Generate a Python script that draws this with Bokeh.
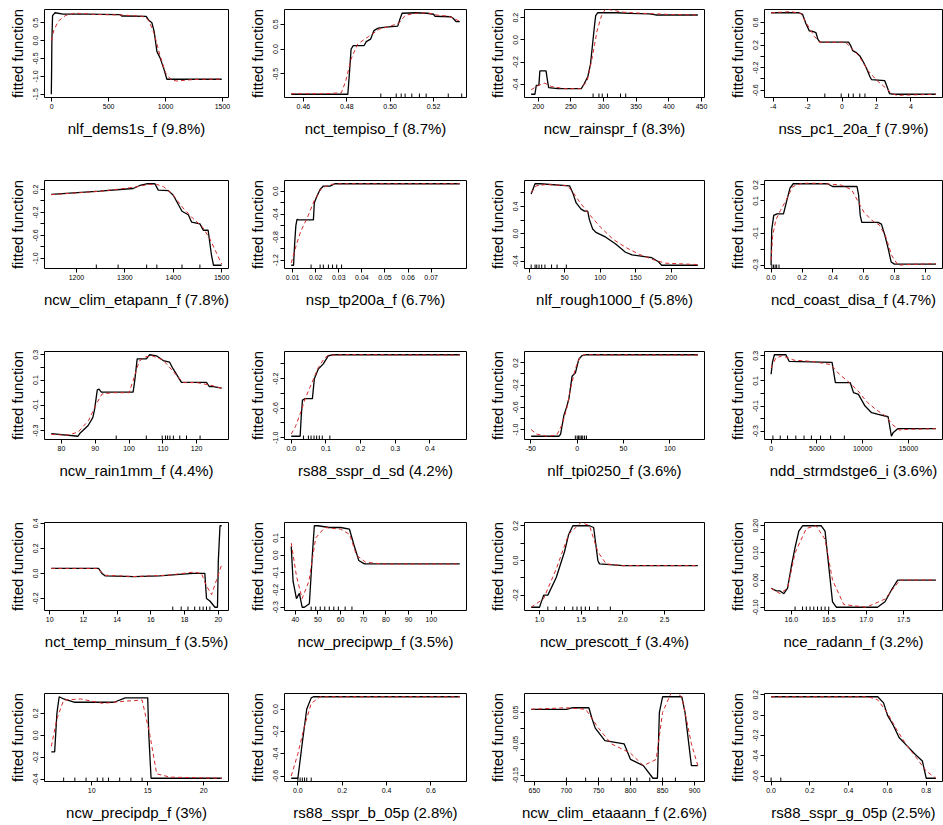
from bokeh.plotting import figure
from bokeh.layouts import column, row
from bokeh.models import FixedTicker, Range1d
from bokeh.embed import file_html
from bokeh.resources import INLINE

# ---------------- data ----------------
P1_LABEL = "nlf_dems1s_f (9.8%)"
P1_BX = [-3, -1, 2, 8, 30, 100, 300, 600, 615, 640, 830, 850, 880, 900, 924, 953, 983, 1012, 1100, 1300, 1493]
P1_BY = [-1.5, -1.0, 0.0, 0.7, 0.78, 0.74, 0.74, 0.73, 0.69, 0.69, 0.68, 0.58, 0.5, 0.26, -0.3, -0.49, -0.77, -1.08, -1.08, -1.08, -1.08]
P1_RX = [-3, 20, 60, 120, 200, 250, 400, 600, 800, 850, 900, 950, 1000, 1050, 1100, 1200, 1300, 1493]
P1_RY = [0.0, 0.3, 0.55, 0.7, 0.77, 0.76, 0.73, 0.72, 0.68, 0.58, 0.2, -0.4, -0.9, -1.1, -1.13, -1.1, -1.08, -1.08]
P1_RUG = []
P1_XT = [0, 500, 1000, 1500]
P1_XL = ["0", "500", "1000", "1500"]
P1_YT = [-1.5, -1.0, -0.5, 0.0, 0.5]
P1_YL = ["-1.5", "-1.0", "-0.5", "0.0", "0.5"]

P2_LABEL = "nct_tempiso_f (8.7%)"
P2_BX = [0.4544, 0.4805, 0.4812, 0.4820, 0.4830, 0.4880, 0.4890, 0.4910, 0.4925, 0.4945, 0.4980, 0.5035, 0.5045, 0.5055, 0.5120, 0.5170, 0.5200, 0.5207, 0.5280, 0.5290, 0.5305, 0.5321]
P2_BY = [-0.91, -0.91, -0.5, 0.0, 0.07, 0.07, 0.15, 0.20, 0.37, 0.42, 0.44, 0.46, 0.60, 0.72, 0.73, 0.72, 0.70, 0.66, 0.65, 0.62, 0.55, 0.55]
P2_RX = [0.4544, 0.470, 0.4775, 0.4795, 0.4820, 0.4850, 0.4900, 0.4950, 0.5000, 0.5040, 0.5070, 0.5120, 0.5170, 0.5220, 0.5270, 0.5321]
P2_RY = [-0.90, -0.90, -0.88, -0.65, -0.2, 0.1, 0.25, 0.40, 0.46, 0.52, 0.68, 0.72, 0.73, 0.68, 0.66, 0.56]
P2_RUG = [0.4957, 0.5028, 0.5051, 0.5069, 0.5100, 0.5135, 0.5166, 0.5268, 0.533]
P2_XT = [0.46, 0.48, 0.50, 0.52]
P2_XL = ["0.46", "0.48", "0.50", "0.52"]
P2_YT = [-0.5, 0.0, 0.5]
P2_YL = ["-0.5", "0.0", "0.5"]

P3_LABEL = "ncw_rainspr_f (8.3%)"
P3_BX = [189.2, 195, 197, 201, 202.5, 212, 214, 216, 230, 266, 270, 276, 280, 283, 286, 288, 291, 320, 340, 370, 380, 444.4]
P3_BY = [-0.49, -0.49, -0.41, -0.41, -0.28, -0.28, -0.36, -0.43, -0.44, -0.44, -0.40, -0.33, -0.22, -0.05, 0.12, 0.22, 0.245, 0.245, 0.24, 0.235, 0.225, 0.225]
P3_RX = [189.2, 200, 210, 220, 240, 265, 275, 283, 290, 297, 303, 312, 330, 360, 400, 444.4]
P3_RY = [-0.45, -0.41, -0.39, -0.42, -0.44, -0.44, -0.37, -0.15, 0.08, 0.22, 0.28, 0.27, 0.25, 0.24, 0.23, 0.225]
P3_RUG = [284, 293, 298, 306, 326, 334]
P3_XT = [200, 250, 300, 350, 400, 450]
P3_XL = ["200", "250", "300", "350", "400", "450"]
P3_YT = [-0.4, -0.2, 0.0, 0.2]
P3_YL = ["-0.4", "-0.2", "0.0", "0.2"]

P4_LABEL = "nss_pc1_20a_f (7.9%)"
P4_BX = [-4.12, -2.5, -2.29, -2.10, -1.90, -1.70, -1.52, -1.40, -1.28, 0.38, 0.50, 0.62, 0.85, 1.05, 1.24, 1.43, 1.62, 1.71, 2.48, 2.63, 2.76, 3.0, 5.45]
P4_BY = [0.77, 0.77, 0.74, 0.58, 0.45, 0.44, 0.42, 0.30, 0.25, 0.25, 0.19, 0.10, 0.06, 0.00, -0.10, -0.22, -0.36, -0.41, -0.43, -0.55, -0.66, -0.67, -0.67]
P4_RX = [-4.12, -3.0, -2.4, -2.0, -1.6, -1.3, 0.2, 0.5, 1.0, 1.5, 2.0, 2.5, 2.9, 3.2, 5.45]
P4_RY = [0.77, 0.79, 0.76, 0.55, 0.35, 0.25, 0.25, 0.16, 0.0, -0.25, -0.42, -0.55, -0.66, -0.69, -0.67]
P4_RUG = [-1.0, -0.05, 0.38, 0.65, 1.03, 1.33]
P4_XT = [-4, -2, 0, 2, 4]
P4_XL = ["-4", "-2", "0", "2", "4"]
P4_YT = [-0.6, -0.4, -0.2, 0.0, 0.2, 0.4, 0.6]
P4_YL = ["-0.6", "", "-0.2", "", "0.2", "", "0.6"]

P5_LABEL = "ncw_clim_etapann_f (7.8%)"
P5_BX = [1148, 1248, 1317, 1331, 1345, 1362, 1369, 1390, 1400, 1411, 1418, 1431, 1438, 1455, 1462, 1472, 1479, 1483, 1500]
P5_BY = [0.114, 0.17, 0.217, 0.27, 0.30, 0.30, 0.19, 0.18, 0.10, -0.07, -0.18, -0.24, -0.37, -0.40, -0.51, -0.51, -0.95, -1.12, -1.12]
P5_RX = [1148, 1250, 1320, 1350, 1365, 1380, 1400, 1420, 1440, 1460, 1475, 1490, 1500]
P5_RY = [0.11, 0.17, 0.24, 0.29, 0.29, 0.25, 0.10, -0.12, -0.30, -0.45, -0.65, -0.92, -1.10]
P5_RUG = [1241, 1286, 1345, 1366, 1418, 1455]
P5_XT = [1200, 1300, 1400, 1500]
P5_XL = ["1200", "1300", "1400", "1500"]
P5_YT = [-1.0, -0.8, -0.6, -0.4, -0.2, 0.0, 0.2]
P5_YL = ["-1.0", "", "-0.6", "", "-0.2", "", "0.2"]

P6_LABEL = "nsp_tp200a_f (6.7%)"
P6_BX = [0.0094, 0.0104, 0.0109, 0.0114, 0.0119, 0.0126, 0.0190, 0.0194, 0.0205, 0.0219, 0.0233, 0.0262, 0.0283, 0.0824]
P6_BY = [-1.29, -1.29, -0.9, -0.6, -0.49, -0.50, -0.50, -0.2, -0.09, 0.03, 0.09, 0.09, 0.13, 0.13]
P6_RX = [0.0094, 0.0115, 0.0135, 0.0165, 0.0195, 0.0225, 0.0265, 0.031, 0.0824]
P6_RY = [-1.25, -0.95, -0.7, -0.45, -0.15, 0.05, 0.12, 0.13, 0.13]
P6_RUG = [0.0180, 0.0219, 0.0233, 0.0255, 0.0273, 0.0291, 0.0312]
P6_XT = [0.01, 0.02, 0.03, 0.04, 0.05, 0.06, 0.07]
P6_XL = ["0.01", "0.02", "0.03", "0.04", "0.05", "0.06", "0.07"]
P6_YT = [-1.2, -1.0, -0.8, -0.6, -0.4, -0.2, 0.0]
P6_YL = ["-1.2", "", "-0.8", "", "-0.4", "", "0.0"]

P7_LABEL = "nlf_rough1000_f (5.8%)"
P7_BX = [2.8, 8.3, 15.3, 56.9, 61.6, 66.2, 73.1, 77.8, 82.4, 84.7, 89.4, 94, 107.9, 121.8, 135.6, 144.9, 172.7, 182, 186.6, 237.5]
P7_BY = [0.58, 0.73, 0.73, 0.70, 0.59, 0.45, 0.36, 0.33, 0.33, 0.21, 0.07, 0.02, -0.05, -0.15, -0.27, -0.31, -0.35, -0.41, -0.46, -0.46]
P7_RX = [2.8, 10, 25, 54, 62, 72, 85, 100, 118, 136, 155, 175, 192, 237.5]
P7_RY = [0.6, 0.7, 0.72, 0.7, 0.6, 0.45, 0.28, 0.1, -0.08, -0.2, -0.3, -0.38, -0.43, -0.45]
P7_RUG = [2.8, 8.3, 10.7, 13.9, 17.6, 22.2, 31.5, 39.3, 52.3]
P7_XT = [0, 50, 100, 150, 200]
P7_XL = ["0", "50", "100", "150", "200"]
P7_YT = [-0.4, -0.2, 0.0, 0.2, 0.4, 0.6]
P7_YL = ["-0.4", "", "0.0", "", "0.4", ""]

P8_LABEL = "ncd_coast_disa_f (4.7%)"
P8_BX = [0.0, 0.004, 0.017, 0.038, 0.08, 0.101, 0.122, 0.143, 0.365, 0.397, 0.555, 0.565, 0.576, 0.586, 0.692, 0.713, 0.734, 0.755, 0.776, 0.797, 1.065]
P8_BY = [-0.30, -0.08, 0.01, 0.02, 0.02, 0.10, 0.18, 0.207, 0.207, 0.19, 0.19, 0.14, 0.01, -0.033, -0.033, -0.044, -0.11, -0.19, -0.28, -0.293, -0.293]
P8_RX = [0.0, 0.01, 0.03, 0.06, 0.1, 0.14, 0.2, 0.3, 0.45, 0.52, 0.56, 0.6, 0.65, 0.7, 0.74, 0.78, 0.82, 0.9, 1.065]
P8_RY = [-0.27, -0.12, -0.02, 0.04, 0.11, 0.19, 0.21, 0.21, 0.2, 0.17, 0.1, 0.03, -0.02, -0.05, -0.12, -0.24, -0.30, -0.295, -0.29]
P8_RUG = [0.005, 0.015, 0.026, 0.036, 0.051]
P8_XT = [0.0, 0.2, 0.4, 0.6, 0.8, 1.0]
P8_XL = ["0.0", "0.2", "0.4", "0.6", "0.8", "1.0"]
P8_YT = [-0.3, -0.2, -0.1, 0.0, 0.1, 0.2]
P8_YL = ["-0.3", "", "-0.1", "", "0.1", "0.2"]

P9_LABEL = "ncw_rain1mm_f (4.4%)"
P9_BX = [77.0, 84.9, 85.4, 87.9, 89.3, 89.8, 90.6, 91.1, 91.8, 101.2, 101.7, 102.4, 105.1, 106.1, 108.1, 110.1, 112.0, 113.0, 115.5, 122.9, 123.7, 124.9, 127.4]
P9_BY = [-0.323, -0.344, -0.323, -0.259, -0.195, -0.131, 0.023, 0.028, 0.005, 0.005, 0.10, 0.267, 0.267, 0.30, 0.292, 0.254, 0.241, 0.19, 0.082, 0.082, 0.049, 0.049, 0.036]
P9_RX = [77, 82, 85, 88, 90.5, 92, 95, 100, 101.5, 103, 105, 107, 110, 113, 116, 120, 124, 127.4]
P9_RY = [-0.33, -0.335, -0.31, -0.22, -0.08, -0.01, 0.0, 0.0, 0.12, 0.25, 0.285, 0.29, 0.26, 0.17, 0.08, 0.08, 0.06, 0.035]
P9_RUG = [96.2, 105.1, 109.8, 110.8, 111.4, 112.1, 113.1, 115, 117, 121]
P9_XT = [80, 90, 100, 110, 120]
P9_XL = ["80", "90", "100", "110", "120"]
P9_YT = [-0.3, -0.2, -0.1, 0.0, 0.1, 0.2, 0.3]
P9_YL = ["-0.3", "", "-0.1", "", "0.1", "", "0.3"]

P10_LABEL = "rs88_sspr_d_sd (4.2%)"
P10_BX = [0.0, 0.0257, 0.0286, 0.0324, 0.040, 0.061, 0.0667, 0.078, 0.0924, 0.1067, 0.12, 0.486]
P10_BY = [-0.98, -0.98, -0.73, -0.49, -0.47, -0.47, -0.2, -0.07, 0.0, 0.11, 0.124, 0.124]
P10_RX = [0.0, 0.012, 0.024, 0.042, 0.06, 0.078, 0.096, 0.108, 0.155, 0.486]
P10_RY = [-0.95, -0.85, -0.7, -0.45, -0.25, -0.05, 0.08, 0.12, 0.125, 0.12]
P10_RUG = [0.0352, 0.0495, 0.0571, 0.0657, 0.0733, 0.0810, 0.0895, 0.1114]
P10_XT = [0.0, 0.1, 0.2, 0.3, 0.4]
P10_XL = ["0.0", "0.1", "0.2", "0.3", "0.4"]
P10_YT = [-1.0, -0.8, -0.6, -0.4, -0.2, 0.0]
P10_YL = ["-1.0", "", "-0.6", "", "-0.2", ""]

P11_LABEL = "nlf_tpi0250_f (3.6%)"
P11_BX = [-49.7, -19.6, -17.9, -14.3, -11.5, -9.0, -5.5, -1.9, 1.6, 5.1, 8.7, 130.3]
P11_BY = [-1.12, -1.12, -1.08, -0.74, -0.6, -0.45, -0.04, 0.02, 0.26, 0.33, 0.346, 0.346]
P11_RX = [-49.7, -44, -33, -22, -16, -11, -7, -2, 3, 8, 20, 130.3]
P11_RY = [-1.0, -1.08, -1.12, -1.1, -0.9, -0.6, -0.25, 0.1, 0.3, 0.35, 0.345, 0.34]
P11_RUG = [-2, 0, 1.5, 3, 4.5, 6, 8, 10]
P11_XT = [-50, 0, 50, 100]
P11_XL = ["-50", "0", "50", "100"]
P11_YT = [-1.0, -0.8, -0.6, -0.4, -0.2, 0.0, 0.2]
P11_YL = ["-1.0", "", "-0.6", "", "-0.2", "", "0.2"]

P12_LABEL = "ndd_strmdstge6_i (3.6%)"
P12_BX = [0, 150, 360, 1620, 1980, 6660, 7020, 8640, 9000, 9540, 10260, 10980, 11700, 12780, 13140, 13320, 13860, 18000]
P12_BY = [0.153, 0.25, 0.308, 0.308, 0.255, 0.247, 0.087, 0.087, 0.007, -0.007, -0.10, -0.153, -0.167, -0.185, -0.34, -0.313, -0.279, -0.279]
P12_RX = [0, 500, 1200, 2500, 4500, 6500, 7500, 8500, 9500, 10500, 11500, 12500, 13300, 14000, 15000, 18000]
P12_RY = [0.20, 0.28, 0.30, 0.265, 0.255, 0.23, 0.15, 0.09, 0.02, -0.07, -0.13, -0.18, -0.25, -0.29, -0.285, -0.28]
P12_RUG = [200, 1000, 1800, 2700, 3600, 4400, 5400, 6500, 8000]
P12_XT = [0, 5000, 10000, 15000]
P12_XL = ["0", "5000", "10000", "15000"]
P12_YT = [-0.3, -0.2, -0.1, 0.0, 0.1, 0.2, 0.3]
P12_YL = ["-0.3", "", "-0.1", "", "0.1", "", "0.3"]

P13_LABEL = "nct_temp_minsum_f (3.5%)"
P13_BX = [10.1, 12.9, 13.1, 13.3, 15.0, 16.5, 17.5, 18.5, 19.2, 19.3, 19.5, 19.8, 19.95, 20.0, 20.1, 20.2]
P13_BY = [0.04, 0.04, 0.0, -0.02, -0.025, -0.02, -0.01, 0.0, 0.0, -0.2, -0.22, -0.27, -0.27, 0.1, 0.38, 0.38]
P13_RX = [10.1, 12.8, 13.3, 15, 17, 18.5, 19.0, 19.3, 19.6, 19.9, 20.2]
P13_RY = [0.04, 0.04, -0.015, -0.025, -0.015, 0.01, 0.0, -0.1, -0.17, -0.05, 0.07]
P13_RUG = [17.3, 17.8, 18.2, 18.6, 18.9, 19.1, 19.3, 19.5]
P13_XT = [10, 12, 14, 16, 18, 20]
P13_XL = ["10", "12", "14", "16", "18", "20"]
P13_YT = [-0.2, 0.0, 0.2, 0.4]
P13_YL = ["-0.2", "0.0", "0.2", "0.4"]

P14_LABEL = "ncw_precipwp_f (3.5%)"
P14_BX = [38.2, 39, 40.5, 41.8, 43, 44, 46.2, 47.5, 48.4, 50, 55, 60, 63.9, 66.1, 68, 70.5, 80, 112.6]
P14_BY = [0.05, -0.15, -0.25, -0.22, -0.3, -0.3, -0.28, 0.0, 0.17, 0.17, 0.16, 0.16, 0.15, 0.05, -0.03, -0.05, -0.05, -0.05]
P14_RX = [38.2, 40.5, 43, 46, 49, 53, 60, 64, 67, 71, 78, 112.6]
P14_RY = [0.07, -0.12, -0.25, -0.15, 0.1, 0.16, 0.15, 0.12, 0.0, -0.04, -0.05, -0.05]
P14_RUG = [47, 49, 51, 53, 55, 57, 59, 62, 65]
P14_XT = [40, 50, 60, 70, 80, 90, 100]
P14_XL = ["40", "50", "60", "70", "80", "90", "100"]
P14_YT = [-0.3, -0.2, -0.1, 0.0, 0.1]
P14_YL = ["-0.3", "-0.2", "-0.1", "0.0", "0.1"]

P15_LABEL = "ncw_prescott_f (3.4%)"
P15_BX = [0.9, 1.0, 1.05, 1.1, 1.2, 1.3, 1.35, 1.4, 1.6, 1.65, 1.7, 1.72, 2.0, 2.9]
P15_BY = [-0.27, -0.27, -0.2, -0.2, -0.1, 0.05, 0.15, 0.2, 0.2, 0.19, 0.0, -0.02, -0.03, -0.03]
P15_RX = [0.9, 1.05, 1.2, 1.35, 1.5, 1.6, 1.7, 1.8, 2.0, 2.9]
P15_RY = [-0.27, -0.22, -0.05, 0.15, 0.22, 0.2, 0.05, -0.02, -0.03, -0.03]
P15_RUG = [1.1, 1.2, 1.3, 1.4, 1.45, 1.5, 1.55, 1.6, 1.7, 1.85]
P15_XT = [1.0, 1.5, 2.0, 2.5]
P15_XL = ["1.0", "1.5", "2.0", "2.5"]
P15_YT = [-0.2, -0.1, 0.0, 0.1, 0.2]
P15_YL = ["-0.2", "", "0.0", "", "0.2"]

P16_LABEL = "nce_radann_f (3.2%)"
P16_BX = [15.73, 15.8, 15.85, 15.9, 15.95, 16.0, 16.05, 16.1, 16.15, 16.4, 16.45, 16.5, 16.55, 16.6, 17.15, 17.25, 17.35, 17.42, 17.93]
P16_BY = [-0.03, -0.04, -0.04, -0.05, -0.03, 0.05, 0.12, 0.18, 0.2, 0.2, 0.18, 0.05, -0.08, -0.1, -0.1, -0.08, -0.03, 0.0, 0.0]
P16_RX = [15.73, 15.85, 15.95, 16.05, 16.2, 16.33, 16.45, 16.55, 16.7, 17.0, 17.25, 17.45, 17.93]
P16_RY = [-0.03, -0.05, -0.03, 0.1, 0.19, 0.2, 0.15, 0.0, -0.09, -0.1, -0.07, 0.0, 0.0]
P16_RUG = [16.05, 16.15, 16.2, 16.25, 16.3, 16.35, 16.4, 16.45, 16.5]
P16_XT = [16.0, 16.5, 17.0, 17.5]
P16_XL = ["16.0", "16.5", "17.0", "17.5"]
P16_YT = [-0.10, -0.05, 0.00, 0.05, 0.10, 0.15, 0.20]
P16_YL = ["-0.10", "", "0.00", "", "0.10", "", "0.20"]

P17_LABEL = "ncw_precipdp_f (3%)"
P17_BX = [6.4, 6.7, 6.9, 7.1, 7.5, 8.5, 10, 12, 13.0, 15.0, 15.1, 15.3, 16, 21.6]
P17_BY = [-0.15, -0.15, 0.2, 0.35, 0.33, 0.3, 0.3, 0.3, 0.34, 0.34, 0.0, -0.39, -0.39, -0.39]
P17_RX = [6.4, 6.9, 7.5, 9, 11, 13, 14.5, 15.2, 15.8, 17, 21.6]
P17_RY = [-0.1, 0.15, 0.32, 0.33, 0.29, 0.31, 0.32, 0.0, -0.35, -0.38, -0.39]
P17_RUG = [7.5, 8.5, 9.5, 10.5, 11, 11.5, 12.5, 13.5, 14.5]
P17_XT = [10, 15, 20]
P17_XL = ["10", "15", "20"]
P17_YT = [-0.4, -0.2, 0.0, 0.2]
P17_YL = ["-0.4", "-0.2", "0.0", "0.2"]

P18_LABEL = "rs88_sspr_b_05p (2.8%)"
P18_BX = [-0.03, 0.0, 0.02, 0.04, 0.06, 0.07, 0.73]
P18_BY = [-0.62, -0.62, -0.3, 0.0, 0.1, 0.11, 0.11]
P18_RX = [-0.03, 0.0, 0.03, 0.06, 0.1, 0.73]
P18_RY = [-0.6, -0.4, -0.15, 0.05, 0.11, 0.11]
P18_RUG = [0.0, 0.01, 0.02, 0.03, 0.04, 0.06]
P18_XT = [0.0, 0.2, 0.4, 0.6]
P18_XL = ["0.0", "0.2", "0.4", "0.6"]
P18_YT = [-0.6, -0.4, -0.2, 0.0]
P18_YL = ["-0.6", "-0.4", "-0.2", "0.0"]

P19_LABEL = "ncw_clim_etaaann_f (2.6%)"
P19_BX = [645, 700, 710, 735, 740, 745, 760, 790, 800, 820, 835, 842, 845, 850, 880, 885, 895, 905]
P19_BY = [0.06, 0.06, 0.065, 0.065, 0.03, 0.0, -0.04, -0.05, -0.1, -0.12, -0.16, -0.16, 0.05, 0.1, 0.1, 0.05, -0.12, -0.12]
P19_RX = [645, 700, 730, 750, 770, 800, 820, 840, 850, 865, 880, 895, 905]
P19_RY = [0.06, 0.065, 0.06, 0.0, -0.05, -0.08, -0.12, -0.1, 0.05, 0.12, 0.1, -0.05, -0.12]
P19_RUG = [700, 730, 750, 770, 790, 800, 810, 830, 850, 870]
P19_XT = [650, 700, 750, 800, 850, 900]
P19_XL = ["650", "700", "750", "800", "850", "900"]
P19_YT = [-0.15, -0.10, -0.05, 0.00, 0.05]
P19_YL = ["-0.15", "", "-0.05", "", "0.05"]

P20_LABEL = "rs88_sspr_g_05p (2.5%)"
P20_BX = [0.0, 0.55, 0.58, 0.6, 0.63, 0.66, 0.7, 0.74, 0.78, 0.8, 0.85]
P20_BY = [0.18, 0.18, 0.12, 0.0, -0.1, -0.22, -0.3, -0.38, -0.45, -0.62, -0.62]
P20_RX = [0.0, 0.5, 0.55, 0.6, 0.65, 0.7, 0.75, 0.8, 0.85]
P20_RY = [0.18, 0.18, 0.15, 0.02, -0.15, -0.3, -0.42, -0.55, -0.62]
P20_RUG = [0.0, 0.05]
P20_XT = [0.0, 0.2, 0.4, 0.6, 0.8]
P20_XL = ["0.0", "0.2", "0.4", "0.6", "0.8"]
P20_YT = [-0.6, -0.4, -0.2, 0.0, 0.2]
P20_YL = ["-0.6", "-0.4", "-0.2", "0.0", "0.2"]

Y_TITLE = "fitted function"

g = globals()
PANELS = []
for k in range(1, 21):
    PANELS.append({n: g["P%d_%s" % (k, n)] for n in
                   ["LABEL", "BX", "BY", "RX", "RY", "RUG", "XT", "XL", "YT", "YL"]})

# ---------------- layout ----------------
COL_W = [240, 240, 240, 223]
COL_R = [12, 14, 16, 1]
ROW_H = [171, 171, 171, 171, 141]
TOP = 9
FRAME_H = 88
FONT = "Liberation Sans"


def make(i, d):
    r, c = divmod(i, 4)
    x0, x1 = min(d["BX"]), max(d["BX"])
    y0, y1 = min(d["BY"]), max(d["BY"])
    xp = 0.04 * (x1 - x0)
    yp = 0.04 * (y1 - y0)
    ylo, yhi = y0 - yp, y1 + yp
    p = figure(width=COL_W[c], height=ROW_H[r], output_backend="svg",
               toolbar_location=None,
               x_range=Range1d(x0 - xp, x1 + xp), y_range=Range1d(ylo, yhi),
               min_border_left=44, min_border_right=COL_R[c],
               min_border_top=TOP, min_border_bottom=ROW_H[r] - TOP - FRAME_H)
    p.xgrid.visible = False
    p.ygrid.visible = False
    p.outline_line_color = "black"
    p.outline_line_alpha = 1.0
    p.outline_line_width = 1
    p.background_fill_color = "white"
    p.border_fill_color = "white"
    for ax in (p.xaxis[0], p.yaxis[0]):
        ax.axis_line_color = None
        ax.major_tick_line_color = "black"
        ax.major_tick_out = 4
        ax.major_tick_in = 0
        ax.minor_tick_line_color = None
        ax.major_label_text_font = FONT
        ax.major_label_text_font_size = "7px"
        ax.major_label_text_color = "black"
        ax.major_label_standoff = 2
        ax.axis_label_text_font = FONT
        ax.axis_label_text_font_size = "15px"
        ax.axis_label_text_font_style = "normal"
        ax.axis_label_text_color = "black"
    p.xaxis.ticker = FixedTicker(ticks=d["XT"])
    p.xaxis.major_label_overrides = {v: s for v, s in zip(d["XT"], d["XL"])}
    p.yaxis.ticker = FixedTicker(ticks=d["YT"])
    p.yaxis.major_label_overrides = {v: s for v, s in zip(d["YT"], d["YL"])}
    p.yaxis.major_label_orientation = "vertical"
    p.xaxis.axis_label = d["LABEL"]
    p.yaxis.axis_label = Y_TITLE
    p.xaxis.axis_label_standoff = 8
    p.yaxis.axis_label_standoff = 5

    p.line(d["BX"], d["BY"], line_color="black", line_width=1.3)
    p.line(d["RX"], d["RY"], line_color="#d42a2a", line_width=1.0, line_dash="4 3")
    if d["RUG"]:
        n = len(d["RUG"])
        h = 0.045 * (yhi - ylo)
        p.segment(x0=d["RUG"], y0=[ylo] * n, x1=d["RUG"], y1=[ylo + h] * n,
                  line_color="black", line_width=1)
    return p


figs = [make(i, d) for i, d in enumerate(PANELS)]
rows = [row(*figs[r * 4:(r + 1) * 4]) for r in range(5)]
layout = column(*rows)

open("out.html", "w").write(file_html(layout, INLINE, title="fitted functions"))
